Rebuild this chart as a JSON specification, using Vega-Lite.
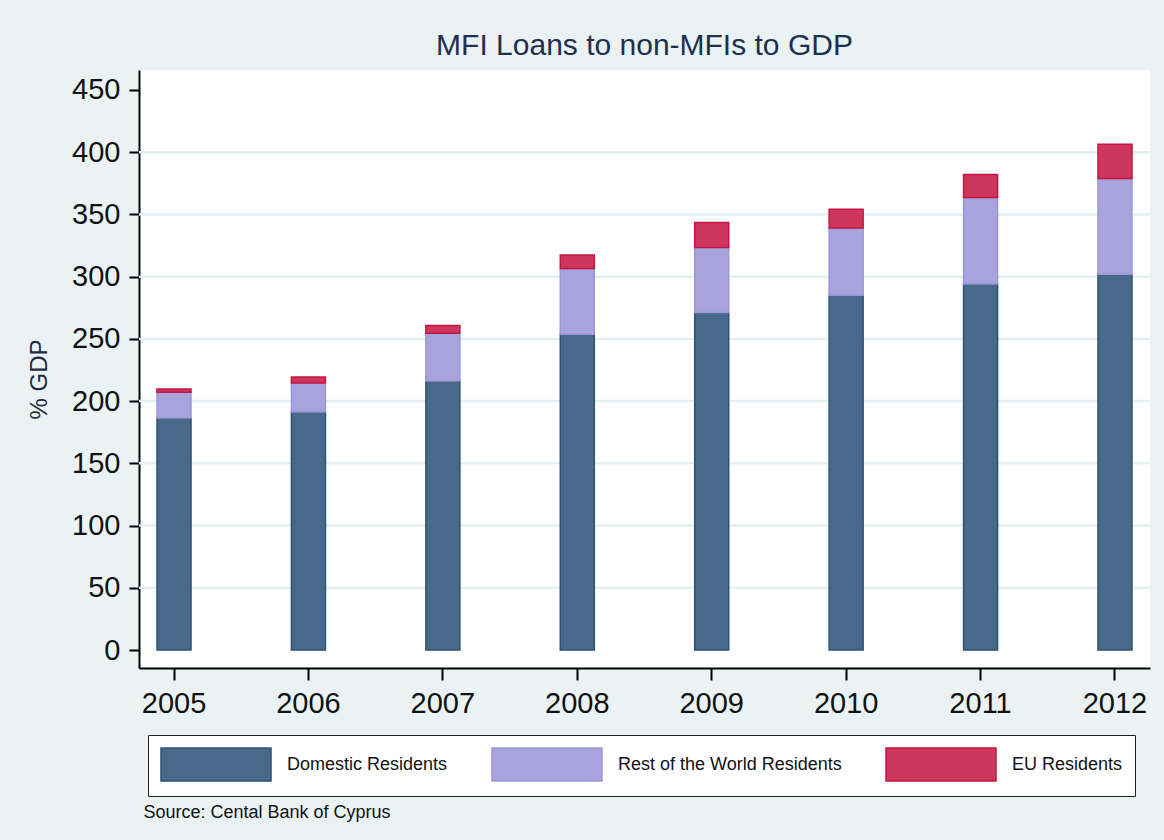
{
  "$schema": "https://vega.github.io/schema/vega-lite/v6.json",
  "width": 1011,
  "height": 598,
  "autosize": {"type": "none"},
  "padding": {"left": 139, "top": 70, "right": 14, "bottom": 172},
  "background": "#EAF2F3",
  "config": {"view": {"fill": "white", "stroke": null}, "font": "Liberation Sans"},
  "title": {"text": "MFI Loans to non-MFIs to GDP", "fontSize": 30, "fontWeight": "normal", "color": "#1E3050", "anchor": "middle", "frame": "group", "baseline": "alphabetic", "offset": 15, "dy": 30},
  "data": {"values": [
    {"year": "2005", "series": "Domestic Residents", "ord": 1, "value": 186.5},
    {"year": "2005", "series": "Rest of the World Residents", "ord": 2, "value": 20.7},
    {"year": "2005", "series": "EU Residents", "ord": 3, "value": 2.6},
    {"year": "2006", "series": "Domestic Residents", "ord": 1, "value": 191.2},
    {"year": "2006", "series": "Rest of the World Residents", "ord": 2, "value": 23.4},
    {"year": "2006", "series": "EU Residents", "ord": 3, "value": 4.7},
    {"year": "2007", "series": "Domestic Residents", "ord": 1, "value": 216.1},
    {"year": "2007", "series": "Rest of the World Residents", "ord": 2, "value": 38.4},
    {"year": "2007", "series": "EU Residents", "ord": 3, "value": 6.3},
    {"year": "2008", "series": "Domestic Residents", "ord": 1, "value": 253.8},
    {"year": "2008", "series": "Rest of the World Residents", "ord": 2, "value": 52.8},
    {"year": "2008", "series": "EU Residents", "ord": 3, "value": 10.9},
    {"year": "2009", "series": "Domestic Residents", "ord": 1, "value": 271.2},
    {"year": "2009", "series": "Rest of the World Residents", "ord": 2, "value": 52.2},
    {"year": "2009", "series": "EU Residents", "ord": 3, "value": 20.1},
    {"year": "2010", "series": "Domestic Residents", "ord": 1, "value": 285.1},
    {"year": "2010", "series": "Rest of the World Residents", "ord": 2, "value": 54.1},
    {"year": "2010", "series": "EU Residents", "ord": 3, "value": 15.0},
    {"year": "2011", "series": "Domestic Residents", "ord": 1, "value": 294.2},
    {"year": "2011", "series": "Rest of the World Residents", "ord": 2, "value": 69.4},
    {"year": "2011", "series": "EU Residents", "ord": 3, "value": 18.5},
    {"year": "2012", "series": "Domestic Residents", "ord": 1, "value": 302.0},
    {"year": "2012", "series": "Rest of the World Residents", "ord": 2, "value": 76.9},
    {"year": "2012", "series": "EU Residents", "ord": 3, "value": 27.5}
  ]},
  "layer": [
    {
      "data": {"values": [{"g": 50}, {"g": 100}, {"g": 150}, {"g": 200}, {"g": 250}, {"g": 300}, {"g": 350}, {"g": 400}]},
      "mark": {"type": "rule", "color": "#E6EFF1", "strokeWidth": 2.5},
      "encoding": {
        "y": {"field": "g", "type": "quantitative", "scale": {"domain": [-14.46, 466.07], "nice": false, "zero": false}}
      }
    },
    {
      "mark": {"type": "bar", "strokeWidth": 1.5},
      "encoding": {
        "x": {
          "field": "year", "type": "ordinal",
          "scale": {"paddingInner": 0.747, "paddingOuter": 0.134},
          "axis": {
            "title": "Source: Cental Bank of Cyprus", "titleFontSize": 18, "titleFontWeight": "normal", "titleColor": "#111111",
            "titleAnchor": "start", "titleAlign": "left", "titleX": 4, "titleY": 144, "titleBaseline": "middle",
            "labelAngle": 0, "labelFontSize": 29, "labelPadding": 9, "labelColor": "#111111",
            "tickSize": 12, "tickWidth": 2, "tickColor": "#000000", "domainWidth": 2, "domainColor": "#000000", "grid": false
          }
        },
        "y": {
          "field": "value", "type": "quantitative", "stack": "zero",
          "scale": {"domain": [-14.46, 466.07], "nice": false, "zero": false},
          "axis": {
            "title": "% GDP", "values": [0, 50, 100, 150, 200, 250, 300, 350, 400, 450], "grid": false,
            "domainColor": "#000000", "domainWidth": 2, "tickColor": "#000000", "tickWidth": 2, "tickSize": 10,
            "labelFontSize": 29, "labelColor": "#111111", "labelPadding": 9,
            "titleFontSize": 24, "titleFontWeight": "normal", "titleColor": "#1E2A40",
            "titleX": -100, "titleY": 309, "titleAngle": -90, "titleAlign": "center", "titleBaseline": "middle"
          }
        },
        "color": {
          "field": "series", "type": "nominal",
          "scale": {"domain": ["Domestic Residents", "Rest of the World Residents", "EU Residents"], "range": ["#476A8A", "#A8A3DA", "#CE375C"]},
          "legend": {
            "title": null, "orient": "none", "legendX": 9, "legendY": 665, "direction": "horizontal",
            "fillColor": "white", "strokeColor": "#222222", "padding": 12,
            "symbolType": "M-1,-1H5.667V1H-1Z", "symbolSize": 1089, "symbolStrokeWidth": 1.5, "symbolOpacity": 1,
            "labelFontSize": 18, "labelColor": "#111111", "labelOffset": 92, "columnPadding": 41, "labelLimit": 400
          }
        },
        "stroke": {
          "field": "series", "type": "nominal",
          "scale": {"domain": ["Domestic Residents", "Rest of the World Residents", "EU Residents"], "range": ["#2E5276", "#9C95D8", "#C4173F"]},
          "legend": {
            "title": null, "orient": "none", "legendX": 9, "legendY": 665, "direction": "horizontal",
            "fillColor": "white", "strokeColor": "#222222", "padding": 12,
            "symbolType": "M-1,-1H5.667V1H-1Z", "symbolSize": 1089, "symbolStrokeWidth": 1.5, "symbolOpacity": 1,
            "labelFontSize": 18, "labelColor": "#111111", "labelOffset": 92, "columnPadding": 41, "labelLimit": 400
          }
        },
        "order": {"field": "ord", "type": "quantitative"}
      }
    }
  ]
}
